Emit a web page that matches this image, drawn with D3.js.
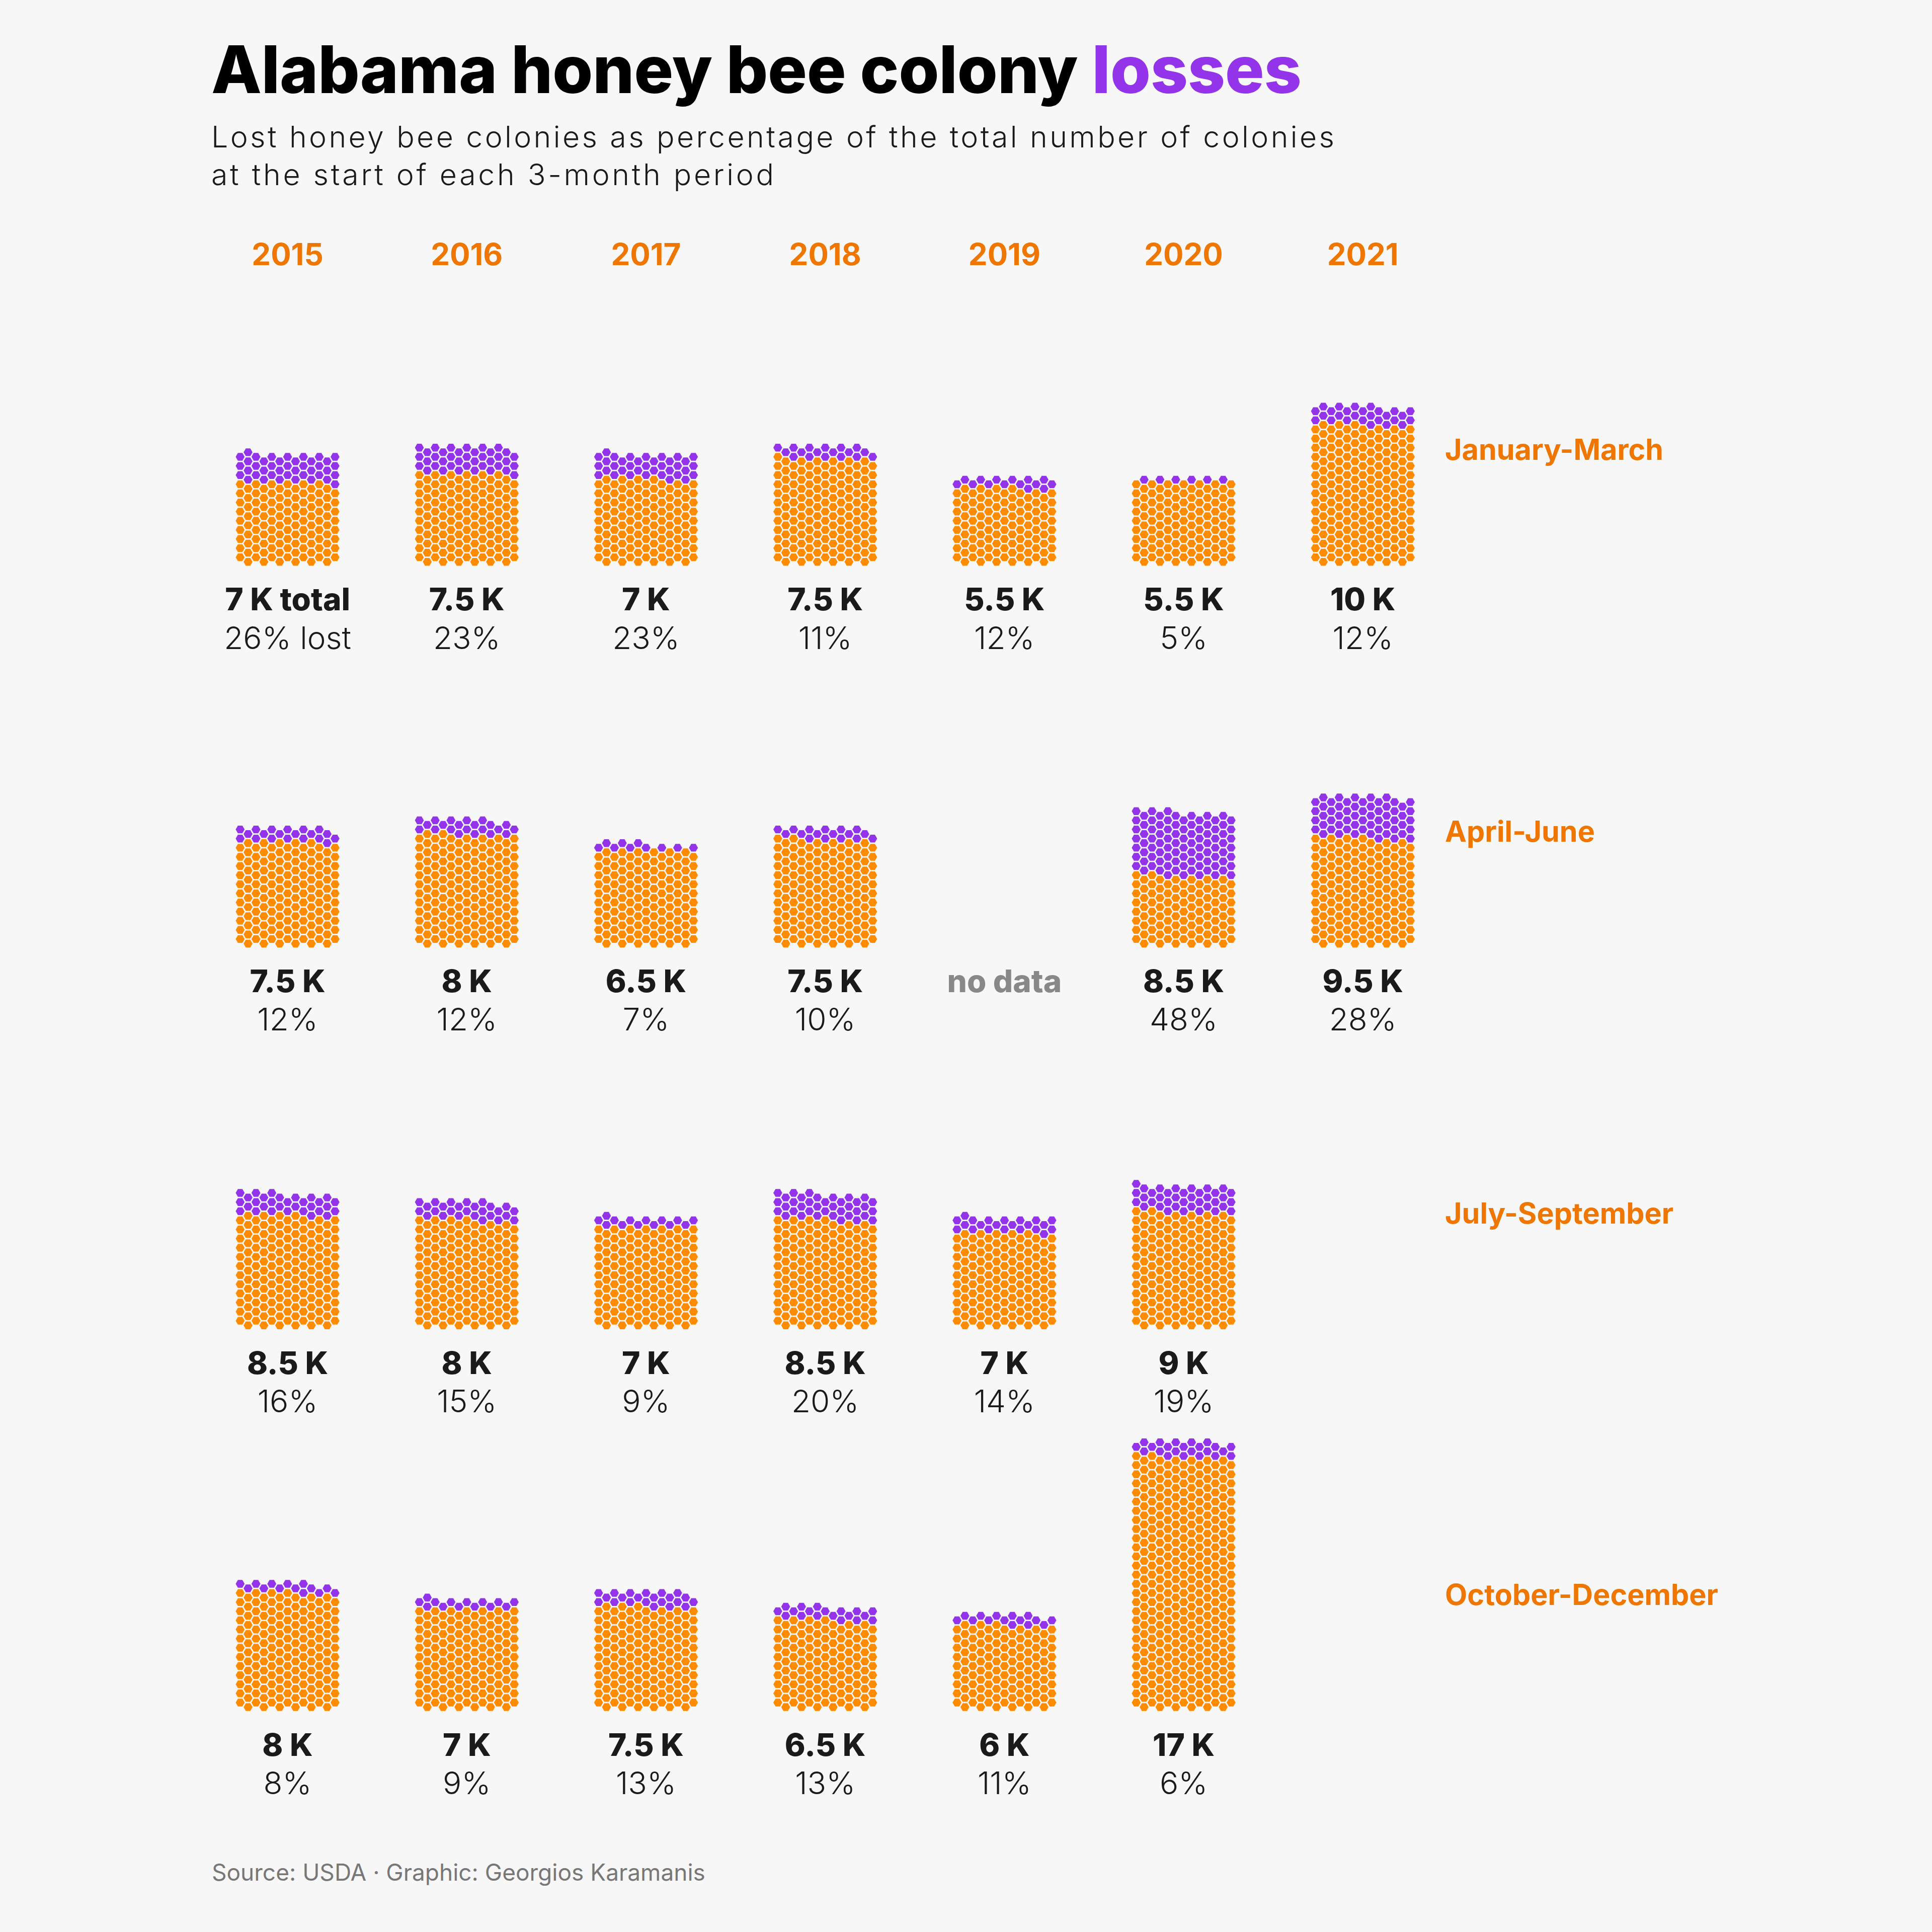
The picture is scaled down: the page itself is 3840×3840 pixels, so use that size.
<!DOCTYPE html>
<html>
<head>
<meta charset="utf-8">
<script src="https://cdn.jsdelivr.net/npm/d3@7"></script>
<style>
  body { margin: 0; background: #f7f7f7; }
  text { font-family: Inter, "Noto Sans", sans-serif; }
</style>
</head>
<body>
<script>
// data (thousands of colonies, % lost)
const years = [2015, 2016, 2017, 2018, 2019, 2020, 2021];
const periods = ["January-March", "April-June", "July-September", "October-December"];

const totalJanMar = [7, 7.5, 7, 7.5, 5.5, 5.5, 10];
const lostJanMar  = [26, 23, 23, 11, 12, 5, 12];
const totalAprJun = [7.5, 8, 6.5, 7.5, null, 8.5, 9.5];
const lostAprJun  = [12, 12, 7, 10, null, 48, 28];
const totalJulSep = [8.5, 8, 7, 8.5, 7, 9];
const lostJulSep  = [16, 15, 9, 20, 14, 19];
const totalOctDec = [8, 7, 7.5, 6.5, 6, 17];
const lostOctDec  = [8, 9, 13, 13, 11, 6];

const totals = [totalJanMar, totalAprJun, totalJulSep, totalOctDec];
const losts = [lostJanMar, lostAprJun, lostJulSep, lostOctDec];

const perHex = 44.535;   // colonies per hexagon
const nCols = 13;

const orange = "#ff8c00", purple = "#9333ea", labelOrange = "#ef7600", ink = "#1a1a1a";

const W = 3840, H = 3840;
const svg = d3.select("body").append("svg")
  .attr("width", W).attr("height", H);
svg.append("rect").attr("width", W).attr("height", H).attr("fill", "#f7f7f7");

const x = d3.scalePoint().domain(years).range([571.6, 2708.8]);
const y = d3.scalePoint().domain(periods).range([1116.7, 3393]);
const colX = d3.scaleLinear().domain([0, 12]).range([-94.3, 94.3]);
const rowY = d3.scaleLinear().domain([0, 1]).range([0, -18.15]);

const R = 8.9;
const hexPath = d3.line().curve(d3.curveLinearClosed)(
  d3.range(6).map(i => [R * Math.cos(i * Math.PI / 3), R * Math.sin(i * Math.PI / 3)])
);

// title
const title = svg.append("text")
  .attr("x", 420).attr("y", 185)
  .attr("font-size", 130).attr("font-weight", 800)
  .attr("textLength", 2167).attr("lengthAdjust", "spacing")
  .attr("fill", "#000");
title.append("tspan").text("Alabama honey bee colony ");
title.append("tspan").attr("fill", purple).text("losses");

const subLines = ["Lost honey bee colonies as percentage of the total number of colonies",
                  "at the start of each 3-month period"];
const subWidths = [2232, 1118];
svg.selectAll("text.sub")
  .data(subLines)
  .enter().append("text")
  .attr("class", "sub")
  .attr("x", 420).attr("y", (d, i) => 293 + i * 75)
  .attr("font-size", 59).attr("font-weight", 300)
  .attr("textLength", (d, i) => subWidths[i]).attr("lengthAdjust", "spacing")
  .attr("fill", ink)
  .text(d => d);

// year headers
svg.selectAll("text.year")
  .data(years)
  .enter().append("text")
  .attr("class", "year")
  .attr("x", d => x(d)).attr("y", 527)
  .attr("text-anchor", "middle")
  .attr("font-size", 60).attr("font-weight", 700)
  .attr("fill", labelOrange)
  .text(d => d);

// period labels
svg.selectAll("text.period")
  .data(periods)
  .enter().append("text")
  .attr("class", "period")
  .attr("x", 2872).attr("y", d => y(d) - 202.7)
  .attr("font-size", 57.5).attr("font-weight", 700)
  .attr("fill", labelOrange)
  .text(d => d);

// cells
const cells = [];
periods.forEach((p, pi) => {
  totals[pi].forEach((t, yi) => {
    cells.push({ period: p, year: years[yi], total: t, lost: losts[pi][yi], first: pi === 0 && yi === 0 });
  });
});

const fmtK = v => (Number.isInteger(v) ? v : v.toFixed(1)) + " K";

const cell = svg.selectAll("g.cell")
  .data(cells)
  .enter().append("g")
  .attr("class", "cell")
  .attr("transform", d => `translate(${x(d.year)},${y(d.period)})`);

cell.each(function (d) {
  const g = d3.select(this);
  if (d.total == null) {
    g.append("text")
      .attr("y", 96.5).attr("text-anchor", "middle")
      .attr("font-size", 62).attr("font-weight", 800)
      .attr("fill", "#888")
      .text("no data");
    return;
  }
  const n = Math.round(d.total * 1000 / perHex);
  const nLost = Math.round(n * d.lost / 100);
  const hexes = d3.range(n).map(i => {
    const r = Math.floor(i / nCols), k = i % nCols;
    const odd = k < 6;
    return {
      col: odd ? 2 * k + 1 : 2 * (k - 6),
      row: odd ? r : r + 0.5,
      lost: i >= n - nLost
    };
  });
  g.selectAll("path")
    .data(hexes)
    .enter().append("path")
    .attr("d", hexPath)
    .attr("transform", h => `translate(${colX(h.col)},${rowY(h.row)})`)
    .attr("fill", h => h.lost ? purple : orange);

  g.append("text")
    .attr("y", 96.5).attr("text-anchor", "middle")
    .attr("font-size", 62).attr("font-weight", 800)
    .attr("fill", ink)
    .text(fmtK(d.total) + (d.first ? " total" : ""));
  g.append("text")
    .attr("y", 173).attr("text-anchor", "middle")
    .attr("font-size", 62).attr("font-weight", 300)
    .attr("fill", ink)
    .text(d.lost + "%" + (d.first ? " lost" : ""));
});

// caption
svg.append("text")
  .attr("x", 421).attr("y", 3738)
  .attr("font-size", 46).attr("font-weight", 400)
  .attr("fill", "#777")
  .text("Source: USDA · Graphic: Georgios Karamanis");
</script>
</body>
</html>
